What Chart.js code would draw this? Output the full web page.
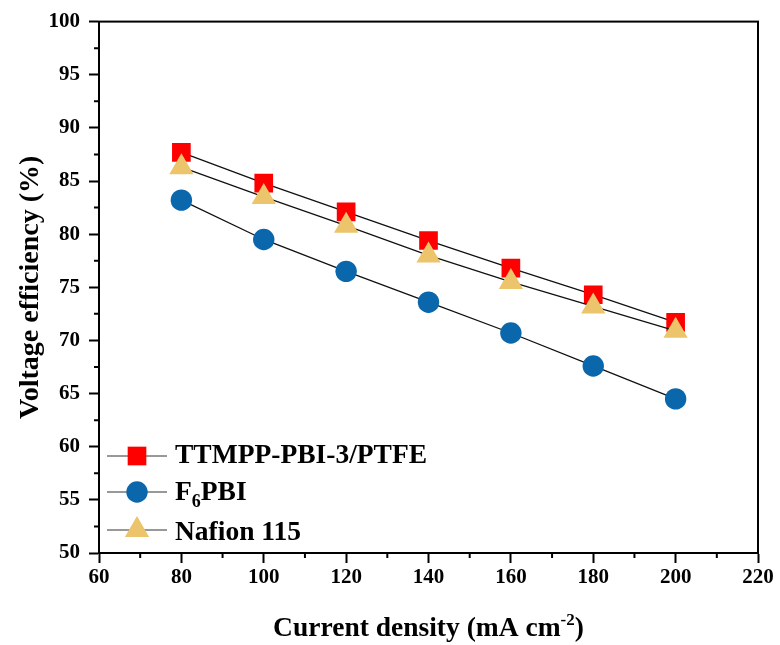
<!DOCTYPE html>
<html>
<head>
<meta charset="utf-8">
<script src="https://cdn.jsdelivr.net/npm/chart.js@4.4.1/dist/chart.umd.min.js"></script>
<style>
  html, body { margin: 0; padding: 0; background: #fff; }
  #wrap { width: 780px; height: 645px; }
</style>
</head>
<body>
<div id="wrap"><canvas id="c" width="780" height="645"></canvas></div>
<script>
// Current density (mA cm^-2) and voltage efficiency (%) per membrane
const currentDensity = [80, 100, 120, 140, 160, 180, 200];
const ttmppVE  = [87.7, 84.8, 82.1, 79.4, 76.8, 74.3, 71.7];
const f6pbiVE  = [83.2, 79.5, 76.5, 73.6, 70.7, 67.6, 64.5];
const nafionVE = [86.3, 83.5, 80.8, 78.0, 75.5, 73.2, 70.9];

const seriesNames = ['TTMPP-PBI-3/PTFE', 'F6PBI', 'Nafion 115'];
const xTitle = ['Current density (mA cm', '-2', ')'];
const yTitle = 'Voltage efficiency (%)';

const SERIF = '"Liberation Serif", "Times New Roman", Times, serif';
Chart.defaults.font.family = SERIF;
Chart.defaults.color = '#000';

const toPoints = (ys) => currentDensity.map((x, i) => ({ x: x, y: ys[i] }));

const marker = {
  square:   { pointStyle: 'rect',     radius: 13.2, color: '#FF0000' },
  circle:   { pointStyle: 'circle',   radius: 10.7, color: '#0A67AB' },
  triangle: { pointStyle: 'triangle', radius: 14,   color: '#EBC46B' }
};

function dataset(label, ys, m, order) {
  return {
    label: label,
    data: toPoints(ys),
    order: order,
    borderColor: '#111',
    borderWidth: 1.3,
    pointStyle: m.pointStyle,
    pointRadius: m.radius,
    pointHoverRadius: m.radius,
    pointBackgroundColor: m.color,
    pointBorderColor: m.color,
    pointBorderWidth: 0,
    fill: false,
    tension: 0
  };
}

// Frame, minor ticks, legend and axis titles
const decorations = {
  id: 'decorations',
  afterDraw(chart) {
    const ctx = chart.ctx;
    const a = chart.chartArea;
    const xs = chart.scales.x, ys = chart.scales.y;
    ctx.save();

    // box around the plot
    ctx.strokeStyle = '#000';
    ctx.lineWidth = 2;
    ctx.strokeRect(a.left, a.top, a.right - a.left, a.bottom - a.top);

    // minor ticks
    ctx.beginPath();
    for (let v = 70; v < 220; v += 20) {
      const px = xs.getPixelForValue(v);
      ctx.moveTo(px, a.bottom);
      ctx.lineTo(px, a.bottom + 5);
    }
    for (let v = 52.5; v < 100; v += 5) {
      const py = ys.getPixelForValue(v);
      ctx.moveTo(a.left, py);
      ctx.lineTo(a.left - 5, py);
    }
    ctx.stroke();

    // legend
    const legendFont = 'bold 27.5px ' + SERIF;
    const rows = [
      { m: marker.square,   y: 456, base: 463 },
      { m: marker.circle,   y: 492, base: 500 },
      { m: marker.triangle, y: 530, base: 540 }
    ];
    rows.forEach((r, i) => {
      ctx.strokeStyle = '#333';
      ctx.lineWidth = 1;
      ctx.beginPath();
      ctx.moveTo(107, r.y);
      ctx.lineTo(167, r.y);
      ctx.stroke();
      ctx.fillStyle = r.m.color;
      ctx.strokeStyle = r.m.color;
      Chart.helpers.drawPoint(ctx, { pointStyle: r.m.pointStyle, radius: r.m.radius, rotation: 0, borderWidth: 0 }, 137, r.y);
      ctx.fillStyle = '#000';
      ctx.textBaseline = 'alphabetic';
      ctx.textAlign = 'left';
      ctx.font = legendFont;
      if (i === 1) {
        let x = 175;
        ctx.fillText('F', x, r.base);
        x += ctx.measureText('F').width;
        ctx.font = 'bold 18px ' + SERIF;
        ctx.fillText('6', x, r.base + 7);
        x += ctx.measureText('6').width;
        ctx.font = legendFont;
        ctx.fillText('PBI', x, r.base);
      } else {
        ctx.fillText(seriesNames[i], 175, r.base);
      }
    });

    // x axis title with superscript
    const big = 'bold 27.5px ' + SERIF, small = 'bold 17px ' + SERIF;
    ctx.font = big;
    const w0 = ctx.measureText(xTitle[0]).width;
    const w2 = ctx.measureText(xTitle[2]).width;
    ctx.font = small;
    const w1 = ctx.measureText(xTitle[1]).width;
    let x = (a.left + a.right) / 2 - (w0 + w1 + w2) / 2;
    const base = 636;
    ctx.textAlign = 'left';
    ctx.font = big;
    ctx.fillText(xTitle[0], x, base);
    x += w0;
    ctx.font = small;
    ctx.fillText(xTitle[1], x, base - 11);
    x += w1;
    ctx.font = big;
    ctx.fillText(xTitle[2], x, base);

    // y axis title
    ctx.translate(38, (a.top + a.bottom) / 2);
    ctx.rotate(-Math.PI / 2);
    ctx.textAlign = 'center';
    ctx.font = 'bold 28px ' + SERIF;
    ctx.fillText(yTitle, 0, 0);

    ctx.restore();
  }
};

new Chart(document.getElementById('c'), {
  type: 'line',
  data: {
    datasets: [
      dataset(seriesNames[0], ttmppVE, marker.square, 1),
      dataset(seriesNames[1], f6pbiVE, marker.circle, 2),
      dataset(seriesNames[2], nafionVE, marker.triangle, 0)
    ]
  },
  options: {
    responsive: false,
    animation: false,
    layout: { padding: { top: 20, right: 22, left: 0, bottom: 0 } },
    plugins: {
      legend: { display: false },
      tooltip: { enabled: false }
    },
    scales: {
      x: {
        type: 'linear',
        min: 60, max: 220,
        ticks: { stepSize: 20, padding: 2, font: { size: 21, weight: 'bold' }, color: '#000' },
        grid: { drawOnChartArea: false, drawTicks: true, tickLength: 10, tickWidth: 2, tickColor: '#000' },
        border: { display: true, color: '#000', width: 2 },
        afterFit(s) { s.height = 92; }
      },
      y: {
        type: 'linear',
        min: 50, max: 100,
        ticks: { stepSize: 5, padding: 9, font: { size: 21, weight: 'bold' }, color: '#000' },
        grid: { drawOnChartArea: false, drawTicks: true, tickLength: 10, tickWidth: 2, tickColor: '#000' },
        border: { display: true, color: '#000', width: 2 },
        afterFit(s) { s.width = 99; }
      }
    }
  },
  plugins: [decorations]
});
</script>
</body>
</html>
